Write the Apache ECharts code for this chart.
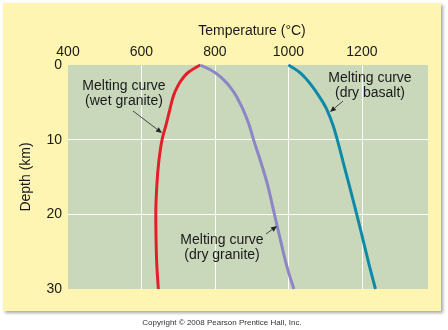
<!DOCTYPE html>
<html>
<head>
<meta charset="utf-8">
<script src="https://cdn.jsdelivr.net/npm/echarts@6/dist/echarts.min.js"></script>
<style>html,body{margin:0;padding:0;background:#fff;}#c{width:448px;height:330px;}</style>
</head>
<body>
<div id="c"></div>
<script>
// Data (temperature °C vs depth km)
const wetGraniteDepth = [0, 1, 2, 3, 4, 5, 6, 8, 10, 13, 16, 20, 24, 27, 30];
const wetGraniteTemp  = [760, 727, 709, 697, 688, 682, 677, 667, 656, 647, 642, 639, 640, 642, 646];
const dryGraniteDepth = [0, 1, 2, 3, 4, 5, 6, 8, 10, 13, 16, 20, 24, 27, 30];
const dryGraniteTemp  = [760, 800, 824, 842, 856, 867, 877, 893, 905, 925, 943, 962, 981, 996, 1015];
const dryBasaltDepth  = [0, 1, 2, 3, 4, 5, 6, 8, 10, 13, 16, 20, 24, 27, 30];
const dryBasaltTemp   = [1000, 1031, 1051, 1067, 1081, 1094, 1105, 1121, 1133, 1149, 1165, 1186, 1206, 1221, 1237];
const xTicks = [400, 600, 800, 1000, 1200];
const yTicks = [0, 10, 20, 30];
const labels = {
  wet: 'Melting curve\n(wet granite)',
  dryG: 'Melting curve\n(dry granite)',
  dryB: 'Melting curve\n(dry basalt)'
};

const pair = (t, d) => t.map((v, i) => [v, d[i]]);
const FONT = '"Liberation Sans", Arial, sans-serif';

function arrow(x1, y1, x2, y2) {
  const a = Math.atan2(y2 - y1, x2 - x1), L = 6, W = 2.6;
  const bx = x2 - L * Math.cos(a), by = y2 - L * Math.sin(a);
  return [
    {type: 'line', shape: {x1, y1, x2: bx, y2: by}, style: {stroke: '#222', lineWidth: 0.8}, z: 10},
    {type: 'polygon', shape: {points: [[x2, y2],
      [bx + W * Math.sin(a), by - W * Math.cos(a)],
      [bx - W * Math.sin(a), by + W * Math.cos(a)]]}, style: {fill: '#222'}, z: 10}
  ];
}
function note(x, y, text) {
  return {type: 'text', x, y, z: 10, style: {text, font: '14px ' + FONT, fill: '#1a1a1a',
    align: 'center', verticalAlign: 'top', lineHeight: 15}};
}
const lineSeries = (name, t, d, color) => ({
  type: 'line', name, data: pair(t, d), smooth: 0.35,
  showSymbol: false, lineStyle: {color, width: 3}, z: 3
});

const chart = echarts.init(document.getElementById('c'), null, {renderer: 'canvas'});
chart.setOption({
  animation: false,
  backgroundColor: '#ffffff',
  textStyle: {fontFamily: FONT},
  grid: {left: 68, top: 65, right: 20, bottom: 41, show: true,
         backgroundColor: '#c9d8bb', borderWidth: 0},
  xAxis: {
    type: 'value', position: 'top', min: xTicks[0], max: 1380, interval: 200,
    name: 'Temperature (°C)', nameLocation: 'middle', nameGap: 27,
    nameTextStyle: {fontSize: 14, color: '#1a1a1a', fontFamily: FONT, padding: [0, 0, 0, 8]},
    axisLine: {show: false}, axisTick: {show: false},
    axisLabel: {fontSize: 14, color: '#1a1a1a', margin: 6, showMaxLabel: false, fontFamily: FONT,
                formatter: v => String(v)},
    splitLine: {show: true, showMinLine: false, showMaxLine: false, lineStyle: {color: '#ffffff', width: 1}}
  },
  yAxis: {
    type: 'value', inverse: true, min: yTicks[0], max: yTicks[yTicks.length - 1], interval: 10,
    name: 'Depth (km)', nameLocation: 'middle', nameGap: 35, nameRotate: 90,
    nameTextStyle: {fontSize: 14, color: '#1a1a1a', fontFamily: FONT},
    axisLine: {show: false}, axisTick: {show: false},
    axisLabel: {fontSize: 14, color: '#1a1a1a', margin: 6, fontFamily: FONT, formatter: v => String(v)},
    splitLine: {show: true, showMinLine: false, showMaxLine: false, lineStyle: {color: '#ffffff', width: 1}}
  },
  series: [
    lineSeries('wet granite', wetGraniteTemp, wetGraniteDepth, '#e3202a'),
    lineSeries('dry granite', dryGraniteTemp, dryGraniteDepth, '#8c85c6'),
    lineSeries('dry basalt', dryBasaltTemp, dryBasaltDepth, '#0f89a8')
  ],
  graphic: [
    {type: 'rect', shape: {x: 3, y: 3, width: 438, height: 308}, z: -10,
     style: {fill: '#fff5b3', shadowBlur: 3, shadowOffsetX: 2, shadowOffsetY: 2, shadowColor: 'rgba(0,0,0,0.35)'}},
    note(124, 79, labels.wet),
    note(370, 71, labels.dryB),
    note(222, 233, labels.dryG),
    ...arrow(133, 111, 162, 133),
    ...arrow(343, 101, 330, 112),
    ...arrow(266, 234, 277, 226),
    {type: 'text', x: 222, y: 323, style: {text: 'Copyright © 2008 Pearson Prentice Hall, Inc.',
      font: '8px ' + FONT, fill: '#333', align: 'center', verticalAlign: 'middle'}}
  ]
});
</script>
</body>
</html>
